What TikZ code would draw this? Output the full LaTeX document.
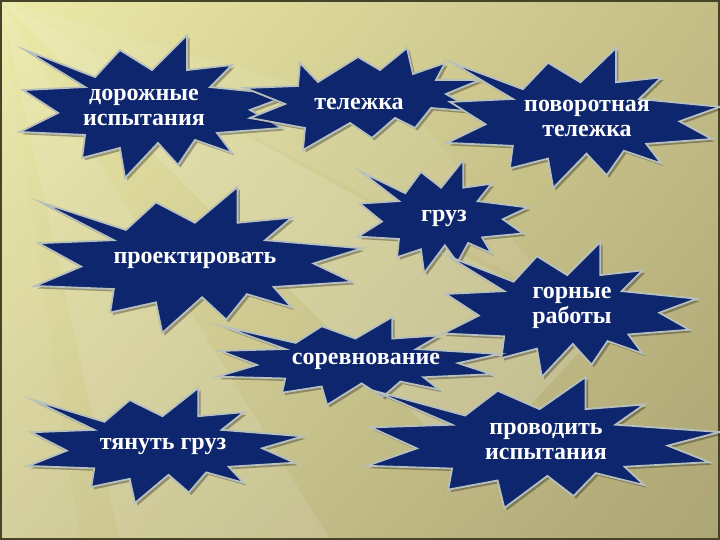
\documentclass[tikz,border=0pt]{standalone}
\usepackage{fontspec}
\setmainfont{Liberation Serif}
\usetikzlibrary{shadings}
\definecolor{navy}{RGB}{14,38,110}
\definecolor{rim}{RGB}{184,192,190}
\definecolor{bgUL}{RGB}{236,234,168}
\definecolor{bgUR}{RGB}{196,189,134}
\definecolor{bgLL}{RGB}{210,204,150}
\definecolor{bgLR}{RGB}{172,165,116}
\definecolor{frame}{RGB}{70,68,40}
\tikzset{
  sealshape/.style={fill=navy, draw=rim, line width=1.8pt, line join=miter, miter limit=20},
  sealshadow/.style={fill=black, opacity=0.3},
  lbl/.style={text=white, font=\bfseries\fontsize{24}{25}\selectfont, align=center, inner sep=0pt},
}
\newcommand\sealoutline[1]{%
  \path[#1] (0.019,0.105) -- (0.278,0.294) -- (0.370,0.105) -- (0.489,0.245) -- (0.619,0.0)
   -- (0.619,0.245) -- (0.785,0.210) -- (0.704,0.364) -- (1.0,0.420) -- (0.852,0.524)
   -- (0.970,0.650) -- (0.730,0.685) -- (0.785,0.825) -- (0.648,0.734) -- (0.585,0.909)
   -- (0.511,0.755) -- (0.389,1.0) -- (0.370,0.790) -- (0.230,0.860) -- (0.241,0.699)
   -- (0.0,0.678) -- (0.141,0.545) -- (0.011,0.385) -- (0.241,0.364) -- cycle;}
\newcommand\drawseal[4]{%
  \begin{scope}[shift={(#1+2.5,#2+2.5)},xscale=#3,yscale=#4]\sealoutline{sealshadow}\end{scope}
  \begin{scope}[shift={(#1,#2)},xscale=#3,yscale=#4]\sealoutline{sealshape}\end{scope}}
\newcommand\cartoutline[1]{%
  \path[#1] (300,63) -- (318,82) -- (358,57) -- (380,70) -- (407,48) -- (413,74)
   -- (445,63) -- (436,80) -- (480,80) -- (446,94) -- (478,112) -- (431,108)
   -- (415,128) -- (395,118) -- (372,138) -- (350,123) -- (303,150) -- (305,128)
   -- (250,118) -- (285,104) -- (245,88) -- (298,86) -- cycle;}
\begin{document}
\begin{tikzpicture}[x=1pt,y=-1pt]
\useasboundingbox (0,0) rectangle (720,540);
% background
\shade[upper left=bgUL, upper right=bgUR, lower left=bgLL, lower right=bgLR] (0,0) rectangle (720,540);
\fill[white, opacity=0.14] (0,0) -- (600,330) -- (470,470) -- cycle;
\fill[white, opacity=0.10] (0,0) -- (330,540) -- (120,540) -- cycle;
\fill[white, opacity=0.08] (0,0) -- (420,120) -- (560,300) -- cycle;
\fill[white, opacity=0.06] (0,0) -- (80,540) -- (0,540) -- cycle;
\draw[frame, line width=2pt] (1,1) rectangle (719,539);
% stars
\drawseal{20}{35}{270}{143}
\begin{scope}[shift={(2.5,2.5)}]\cartoutline{sealshadow}\end{scope}
\cartoutline{sealshape}
\drawseal{447}{48}{273}{140}
\drawseal{358}{160}{170}{113}
\drawseal{35}{187}{327}{146}
\drawseal{443}{242}{254}{135}
\drawseal{217}{317}{283}{88}
\drawseal{28}{388}{275}{115}
\drawseal{367}{377}{353}{131}
% labels
\node[lbl] (l1) at (144,107) {дорожные\\испытания};
\node[lbl] (l2) at (359,104) {тележка};
\node[lbl] (l3) at (587,118) {поворотная\\тележка};
\node[lbl] (l4) at (444,218) {груз};
\node[lbl] (l5) at (195,260) {проектировать};
\node[lbl] (l6) at (572,308) {горные\\работы};
\node[lbl] (l7) at (366,361) {соревнование};
\node[lbl] (l8) at (163,446) {тянуть груз};
\node[lbl] (l9) at (546,441) {проводить\\испытания};
\end{tikzpicture}
\end{document}
